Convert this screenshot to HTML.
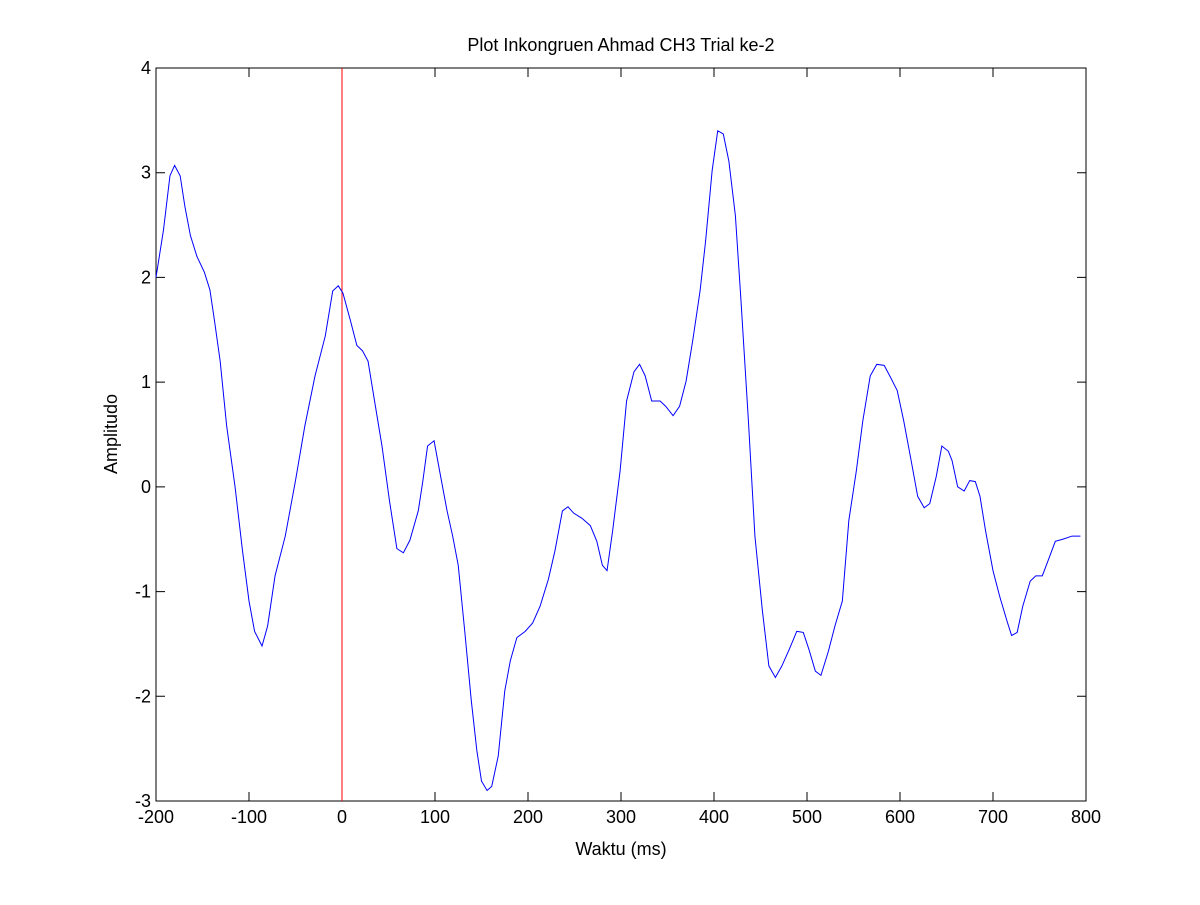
<!DOCTYPE html>
<html><head><meta charset="utf-8"><style>
body{margin:0;background:#fff;}
svg text{font-family:"Liberation Sans",sans-serif;fill:#000;}
</style></head><body>
<svg id="chart" width="1200" height="900" xmlns="http://www.w3.org/2000/svg">
<rect width="1200" height="900" fill="#fff"/>
<text x="621" y="51" font-size="18" text-anchor="middle">Plot Inkongruen Ahmad CH3 Trial ke-2</text>
<text x="621" y="855" font-size="18" text-anchor="middle">Waktu (ms)</text>
<text x="0" y="0" font-size="18" text-anchor="middle" transform="translate(117,434) rotate(-90)">Amplitudo</text>
<g id="plot"></g>
</svg>
<script>
const times=[-200,-192,-185,-180,-174,-169,-163,-156,-148,-142,-137,-131,-124,-115,-107,-100,-94,-86,-80,-72,-61,-50,-40,-29,-18,-10,-4,1,9,16,22,28,35,43,51,59,66,73,82,87,92,99,105,113,119,125,132,139,145,150,156,161,168,175,181,188,197,205,213,222,229,237,243,249,258,267,274,280,285,291,299,306,314,320,326,333,342,348,356,363,370,377,385,391,398,404,410,416,423,429,437,444,452,459,466,473,481,489,496,502,509,515,523,530,538,545,553,560,568,575,583,589,597,604,612,619,626,632,639,645,652,656,662,669,675,681,686,692,700,707,715,720,726,732,740,746,753,759,767,775,785,794];
const amps=[2.0,2.45,2.97,3.07,2.97,2.68,2.4,2.2,2.05,1.88,1.58,1.2,0.58,0.0,-0.61,-1.09,-1.38,-1.52,-1.33,-0.85,-0.47,0.06,0.58,1.06,1.44,1.87,1.92,1.85,1.59,1.35,1.3,1.2,0.82,0.39,-0.13,-0.59,-0.63,-0.51,-0.23,0.06,0.39,0.44,0.15,-0.23,-0.47,-0.75,-1.38,-2.04,-2.52,-2.81,-2.9,-2.86,-2.57,-1.95,-1.66,-1.44,-1.38,-1.3,-1.14,-0.88,-0.61,-0.23,-0.19,-0.25,-0.3,-0.37,-0.52,-0.75,-0.8,-0.42,0.15,0.82,1.1,1.17,1.06,0.82,0.82,0.77,0.68,0.77,1.01,1.39,1.87,2.35,3.02,3.4,3.37,3.11,2.59,1.78,0.63,-0.47,-1.18,-1.71,-1.82,-1.71,-1.55,-1.38,-1.39,-1.55,-1.76,-1.8,-1.57,-1.33,-1.09,-0.32,0.15,0.63,1.06,1.17,1.16,1.06,0.92,0.63,0.25,-0.09,-0.2,-0.16,0.1,0.39,0.34,0.25,0.0,-0.04,0.06,0.05,-0.09,-0.42,-0.8,-1.04,-1.28,-1.42,-1.39,-1.14,-0.9,-0.85,-0.85,-0.71,-0.52,-0.5,-0.47,-0.47];
const xTicks=[-200,-100,0,100,200,300,400,500,600,700,800];
const yTicks=[-3,-2,-1,0,1,2,3,4];
const markerTime=0;
const X0=156,X1=1086,Y0=801,Y1=68;
const sx=v=>X0+(v-(-200))/1000*(X1-X0);
const sy=v=>Y0-(v-(-3))/7*(Y0-Y1);
const NS='http://www.w3.org/2000/svg';
const g=document.getElementById('plot');
function mk(t,a){const e=document.createElementNS(NS,t);for(const k in a)e.setAttribute(k,a[k]);g.appendChild(e);return e;}
const frame=mk('rect',{x:X0,y:Y1,width:X1-X0,height:Y0-Y1,fill:'none',stroke:'#000','stroke-width':1});


xTicks.forEach(t=>{const x=sx(t);
 const l=mk('path',{d:`M${x},${Y0}V${Y0-9}M${x},${Y1}V${Y1+9}`,stroke:'#000'});
 
 
 const tx=mk('text',{x:x,y:Y0+22,'font-size':18,'text-anchor':'middle'});tx.textContent=t;
 
 
});
yTicks.forEach(t=>{const y=sy(t);
 const l=mk('path',{d:`M${X0},${y}H${X0+9}M${X1},${y}H${X1-9}`,stroke:'#000'});
 
 
 const tx=mk('text',{x:X0-5,y:y+6,'font-size':18,'text-anchor':'end'});tx.textContent=t;
 
 
});
const m=mk('line',{x1:sx(markerTime),x2:sx(markerTime),y1:Y1,y2:Y0,stroke:'#f00','stroke-width':1});


const p=mk('polyline',{points:times.map((t,i)=>sx(t)+','+sy(amps[i])).join(' '),fill:'none',stroke:'#00f','stroke-width':1});


</script>
</body></html>
